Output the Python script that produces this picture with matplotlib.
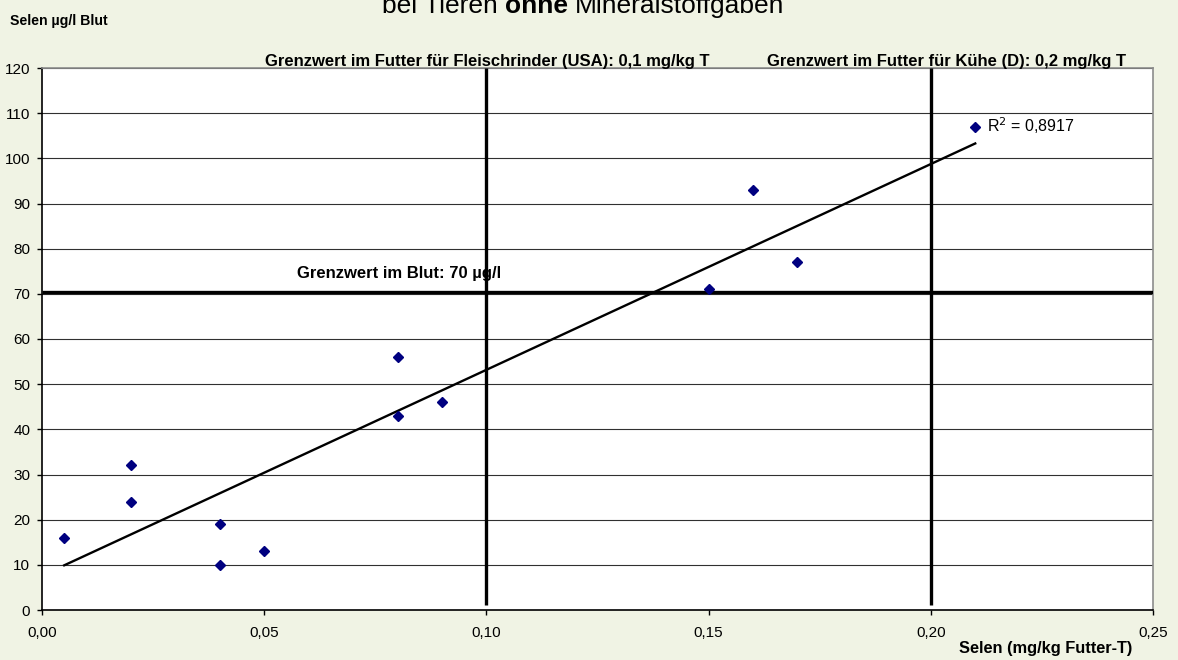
import matplotlib.pyplot as plt
import matplotlib.transforms as mtransforms
import numpy as np

plt.rcParams['font.family'] = ['Liberation Sans', 'DejaVu Sans']

# Selen im Futter (mg/kg T) und im Blut (µg/l)
futter = [0.005, 0.02, 0.02, 0.04, 0.04, 0.05, 0.08, 0.08, 0.09, 0.15, 0.16, 0.17, 0.21]
blut = [16, 32, 24, 19, 10, 13, 56, 43, 46, 71, 93, 77, 107]

grenz_futter = [0.1, 0.2]
grenz_blut = 70.5
x_ticks = [0.0, 0.05, 0.10, 0.15, 0.20, 0.25]
y_ticks = list(range(0, 121, 10))
r2_text = 'R$^2$ = 0,8917'
titel = ['bei Tieren', 'ohne', 'Mineralstoffgaben']

bg = '#f0f3e4'
fig = plt.figure(figsize=(11.78, 6.6), dpi=100, facecolor=bg)
ax = fig.add_axes([42 / 1178, 50 / 660, (1153 - 42) / 1178, (610 - 68) / 660])
ax.set_facecolor('white')

ax.set_xlim(0, 0.25)
ax.set_ylim(0, 120)
ax.set_yticks(y_ticks)
ax.set_xticks(x_ticks)
ax.set_xticklabels([f'{t:.2f}'.replace('.', ',') for t in x_ticks])
ax.tick_params(axis='both', labelsize=11, length=3.5, width=1, color='black', pad=5)
ax.tick_params(axis='x', pad=8)

for y in y_ticks[1:]:
    ax.axhline(y, color='#303030', lw=0.8, zorder=1)

for s in ['left', 'bottom']:
    ax.spines[s].set_color('black')
    ax.spines[s].set_linewidth(1.2)
for s in ['top', 'right']:
    ax.spines[s].set_color('#8c8c8c')
    ax.spines[s].set_linewidth(1.2)

# Trendlinie
m, b = np.polyfit(futter, blut, 1)
xs = np.array([min(futter), max(futter)])
ax.plot(xs, m * xs + b, color='black', lw=1.7, zorder=3)

ax.plot(futter, blut, linestyle='none', marker='D', markersize=5,
        color='#000080', zorder=4)

# Grenzwerte
for gx in grenz_futter:
    ax.plot([gx, gx], [1, 120], color='black', lw=2.4, zorder=3, solid_capstyle='butt')
ax.plot([0, 0.25], [grenz_blut, grenz_blut], color='black', lw=2.4, zorder=3,
        solid_capstyle='butt')

ax.text(0.0502, 120.4, 'Grenzwert im Futter für Fleischrinder (USA): 0,1 mg/kg T',
        ha='left', va='baseline', fontsize=12, fontweight='bold')
ax.text(0.1631, 120.4, 'Grenzwert im Futter für Kühe (D): 0,2 mg/kg T',
        ha='left', va='baseline', fontsize=12, fontweight='bold')
ax.text(0.0574, 74.5, 'Grenzwert im Blut: 70 µg/l',
        ha='left', va='center', fontsize=12, fontweight='bold')
ax.text(0.2126, 107.3, r2_text, ha='left', va='center', fontsize=11.5)

fig.text(10 / 1178, 1 - 25 / 660, 'Selen µg/l Blut', ha='left', va='baseline',
         fontsize=10.2, fontweight='bold')
fig.text(1132 / 1178, 1 - 649 / 660, 'Selen (mg/kg Futter-T)', ha='right', va='center',
         fontsize=11.8, fontweight='bold')

# Titel (oben abgeschnitten wie im Original), "ohne" fett
basis_y = (1 - 13 / 660) * fig.bbox.height
t = fig.text(382 / 1178, 1 - 13 / 660, titel[0], ha='left', va='baseline', fontsize=19)
for i, wort in enumerate(titel[1:]):
    fig.canvas.draw()
    bb = t.get_window_extent()
    t = fig.text(bb.x1 + 7, basis_y, wort, fontsize=19,
                 fontweight='bold' if i == 0 else 'normal',
                 ha='left', va='baseline', transform=mtransforms.IdentityTransform())

fig.savefig('out.png', dpi=100, facecolor=bg)
